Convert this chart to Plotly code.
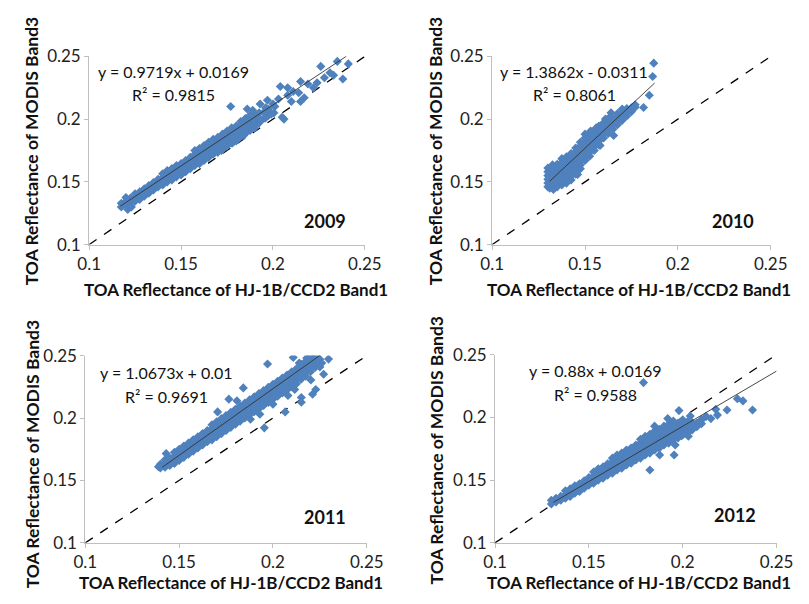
import plotly.graph_objects as go

W, H = 809, 604

years = ["2009", "2010", "2011", "2012"]
slopes = [0.9719, 1.3862, 1.0673, 0.88]
intercepts = [0.0169, -0.0311, 0.01, 0.0169]
equations = ["y = 0.9719x + 0.0169", "y = 1.3862x - 0.0311", "y = 1.0673x + 0.01", "y = 0.88x + 0.0169"]
r2_labels = ["R² = 0.9815", "R² = 0.8061", "R² = 0.9691", "R² = 0.9588"]
fit_ranges = [(0.117, 0.240), (0.131, 0.1875), (0.141, 0.2253), (0.131, 0.25)]
tick_vals = [0.1, 0.15, 0.2, 0.25]
tick_text = ["0.1", "0.15", "0.2", "0.25"]
x_title = "TOA Reflectance of HJ-1B/CCD2 Band1"
y_title = "TOA Reflectance of MODIS Band3"

# dense core of each cloud: HJ-1B reflectance -> MODIS reflectances read in that column
core_2009 = {
    0.1175: [0.130, 0.133], 0.1200: [0.1315, 0.1345, 0.1375], 0.1225: [0.131, 0.134, 0.137],
    0.1250: [0.1345, 0.1375, 0.1405], 0.1275: [0.136, 0.139, 0.142], 0.1300: [0.1385, 0.1415, 0.1445],
    0.1325: [0.141, 0.144, 0.147], 0.1350: [0.1435, 0.1465, 0.1495], 0.1375: [0.146, 0.149, 0.152],
    0.1400: [0.1475, 0.1505, 0.1535, 0.1565], 0.1425: [0.150, 0.153, 0.156, 0.159],
    0.1450: [0.1515, 0.1545, 0.1575, 0.1605], 0.1475: [0.154, 0.157, 0.160, 0.163],
    0.1500: [0.1555, 0.1585, 0.1615, 0.1645], 0.1525: [0.158, 0.161, 0.164, 0.167],
    0.1550: [0.1605, 0.1635, 0.1665, 0.1695], 0.1575: [0.163, 0.166, 0.169, 0.172, 0.175],
    0.1600: [0.1645, 0.1675, 0.1705, 0.1735, 0.1765], 0.1625: [0.167, 0.170, 0.173, 0.176, 0.179],
    0.1650: [0.1695, 0.1725, 0.1755, 0.1785, 0.1815], 0.1675: [0.172, 0.175, 0.178, 0.181, 0.184],
    0.1700: [0.1735, 0.1765, 0.1795, 0.1825, 0.1855], 0.1725: [0.176, 0.179, 0.182, 0.185, 0.188],
    0.1750: [0.1785, 0.1815, 0.1845, 0.1875, 0.1905], 0.1775: [0.181, 0.184, 0.187, 0.190, 0.193],
    0.1800: [0.1825, 0.1855, 0.1885, 0.1915, 0.1945], 0.1825: [0.186, 0.189, 0.192, 0.195, 0.198],
    0.1850: [0.1885, 0.1915, 0.1945, 0.1975, 0.2005], 0.1875: [0.191, 0.194, 0.197, 0.200, 0.203],
    0.1900: [0.1945, 0.1975, 0.2005, 0.2035], 0.1925: [0.197, 0.201, 0.205],
    0.1950: [0.2005, 0.2055], 0.1975: [0.203, 0.208],
}
extra_2009 = [
    (0.177, 0.210), (0.186, 0.208), (0.197, 0.215), (0.204, 0.226), (0.208, 0.225), (0.211, 0.222),
    (0.215, 0.230), (0.219, 0.228), (0.222, 0.225), (0.217, 0.217), (0.215, 0.214), (0.226, 0.242),
    (0.235, 0.246), (0.231, 0.237), (0.233, 0.235), (0.238, 0.232), (0.241, 0.244), (0.205, 0.2015),
    (0.206, 0.200), (0.2005, 0.205), (0.189, 0.207), (0.196, 0.209), (0.201, 0.210), (0.193, 0.212),
    (0.208, 0.219), (0.214, 0.221), (0.200, 0.212), (0.196, 0.201), (0.193, 0.199), (0.123, 0.130),
    (0.121, 0.128), (0.190, 0.193), (0.184, 0.187), (0.178, 0.181), (0.172, 0.175), (0.203, 0.216),
    (0.210, 0.214), (0.199, 0.204), (0.224, 0.229), (0.228, 0.233),
]

core_2010 = {
    0.1300: [0.146, 0.149, 0.152, 0.155, 0.158, 0.161],
    0.1325: [0.1455, 0.1485, 0.1515, 0.1545, 0.1575, 0.1605, 0.1635],
    0.1350: [0.146, 0.149, 0.152, 0.155, 0.158, 0.161, 0.164],
    0.1375: [0.1475, 0.1505, 0.1535, 0.1565, 0.1595, 0.1625, 0.1655, 0.1685],
    0.1400: [0.149, 0.152, 0.155, 0.158, 0.161, 0.164, 0.167, 0.170],
    0.1425: [0.1515, 0.1545, 0.1575, 0.1605, 0.1635, 0.1665, 0.1695, 0.1725],
    0.1450: [0.156, 0.159, 0.162, 0.165, 0.168, 0.171, 0.174, 0.177],
    0.1475: [0.1605, 0.1635, 0.1665, 0.1695, 0.1725, 0.1755, 0.1785, 0.1815],
    0.1500: [0.167, 0.170, 0.173, 0.176, 0.179, 0.182, 0.185, 0.188],
    0.1525: [0.1705, 0.1735, 0.1765, 0.1795, 0.1825, 0.1855, 0.1885],
    0.1550: [0.175, 0.178, 0.181, 0.184, 0.187, 0.190],
    0.1575: [0.1795, 0.1825, 0.1855, 0.1885, 0.1915, 0.1945],
    0.1600: [0.185, 0.188, 0.191, 0.194, 0.197],
    0.1625: [0.1885, 0.1915, 0.1945, 0.1975, 0.2005],
    0.1650: [0.192, 0.195, 0.198, 0.201],
    0.1675: [0.1955, 0.1985, 0.2015, 0.2045],
    0.1700: [0.199, 0.202, 0.205, 0.208],
    0.1725: [0.2025, 0.2055, 0.2085],
    0.1750: [0.206, 0.209],
    0.1770: [0.2095, 0.2115],
}
extra_2010 = [
    (0.1870, 0.2446), (0.1864, 0.2340), (0.1846, 0.2190), (0.1815, 0.2092), (0.1654, 0.1869),
    (0.1581, 0.1790), (0.1460, 0.1559), (0.1330, 0.1440), (0.1310, 0.1450), (0.1560, 0.1930),
    (0.1610, 0.2000), (0.1640, 0.2050), (0.1530, 0.1905),
]

core_2011 = {
    0.1400: [0.160, 0.163], 0.1425: [0.1605, 0.1635, 0.1665], 0.1450: [0.162, 0.165, 0.168],
    0.1475: [0.1635, 0.1665, 0.1695, 0.1725], 0.1500: [0.166, 0.169, 0.172, 0.175],
    0.1525: [0.1685, 0.1715, 0.1745, 0.1775], 0.1550: [0.171, 0.174, 0.177, 0.180],
    0.1575: [0.1735, 0.1765, 0.1795, 0.1825], 0.1600: [0.176, 0.179, 0.182, 0.185],
    0.1625: [0.1785, 0.1815, 0.1845, 0.1875], 0.1650: [0.181, 0.184, 0.187, 0.190],
    0.1675: [0.1825, 0.1855, 0.1885, 0.1915, 0.1945], 0.1700: [0.185, 0.188, 0.191, 0.194, 0.197],
    0.1725: [0.1875, 0.1905, 0.1935, 0.1965, 0.1995], 0.1750: [0.190, 0.193, 0.196, 0.199, 0.202],
    0.1775: [0.1925, 0.1955, 0.1985, 0.2015, 0.2045], 0.1800: [0.195, 0.198, 0.201, 0.204, 0.207],
    0.1825: [0.1975, 0.2005, 0.2035, 0.2065, 0.2095], 0.1850: [0.200, 0.203, 0.206, 0.209, 0.212],
    0.1875: [0.2025, 0.2055, 0.2085, 0.2115, 0.2145], 0.1900: [0.205, 0.208, 0.211, 0.214, 0.217],
    0.1925: [0.2075, 0.2105, 0.2135, 0.2165, 0.2195], 0.1950: [0.210, 0.213, 0.216, 0.219, 0.222],
    0.1975: [0.2125, 0.2155, 0.2185, 0.2215, 0.2245], 0.2000: [0.215, 0.218, 0.221, 0.224, 0.227],
    0.2025: [0.2175, 0.2205, 0.2235, 0.2265, 0.2295], 0.2050: [0.220, 0.223, 0.226, 0.229, 0.232],
    0.2075: [0.2225, 0.2255, 0.2285, 0.2315, 0.2345], 0.2100: [0.225, 0.228, 0.231, 0.234, 0.237],
    0.2125: [0.2275, 0.2305, 0.2335, 0.2365, 0.2395], 0.2150: [0.231, 0.234, 0.237, 0.240, 0.243],
    0.2175: [0.2335, 0.2365, 0.2395, 0.2425, 0.2455], 0.2200: [0.237, 0.240, 0.243, 0.246, 0.249],
    0.2225: [0.2405, 0.2435, 0.2465, 0.2495], 0.2250: [0.244, 0.247],
}
extra_2011 = [
    (0.139, 0.161), (0.1431, 0.1715), (0.1971, 0.2433), (0.2108, 0.2485), (0.2296, 0.2472),
    (0.2202, 0.2305), (0.2228, 0.2228), (0.1842, 0.2241), (0.1765, 0.2151), (0.1911, 0.2100),
    (0.1954, 0.1921), (0.1783, 0.1960), (0.2065, 0.2049), (0.2151, 0.2126), (0.2031, 0.2254),
    (0.1834, 0.2054), (0.1705, 0.2049), (0.1808, 0.2138), (0.2250, 0.2408), (0.2211, 0.2190),
    (0.2151, 0.2164), (0.2116, 0.2228), (0.2260, 0.2440), (0.2180, 0.2480), (0.2140, 0.2440),
    (0.2270, 0.2350), (0.1880, 0.1990), (0.1930, 0.2030), (0.2000, 0.2110), (0.2080, 0.2180),
]

core_2012 = {
    0.1300: [0.131, 0.134], 0.1325: [0.1325, 0.1355], 0.1350: [0.134, 0.137],
    0.1375: [0.1355, 0.1385, 0.1415], 0.1400: [0.137, 0.140, 0.143], 0.1425: [0.1395, 0.1425, 0.1455],
    0.1450: [0.141, 0.144, 0.147], 0.1475: [0.1435, 0.1465, 0.1495], 0.1500: [0.146, 0.149, 0.152],
    0.1525: [0.1475, 0.1505, 0.1535, 0.1565], 0.1550: [0.150, 0.153, 0.156, 0.159],
    0.1575: [0.1515, 0.1545, 0.1575, 0.1605], 0.1600: [0.154, 0.157, 0.160, 0.163],
    0.1625: [0.1555, 0.1585, 0.1615, 0.1645, 0.1675], 0.1650: [0.158, 0.161, 0.164, 0.167, 0.170],
    0.1675: [0.1595, 0.1625, 0.1655, 0.1685, 0.1715], 0.1700: [0.162, 0.165, 0.168, 0.171, 0.174],
    0.1725: [0.1635, 0.1665, 0.1695, 0.1725, 0.1755], 0.1750: [0.166, 0.169, 0.172, 0.175, 0.178],
    0.1775: [0.1675, 0.1705, 0.1735, 0.1765, 0.1795, 0.1825],
    0.1800: [0.170, 0.173, 0.176, 0.179, 0.182, 0.185],
    0.1825: [0.1715, 0.1745, 0.1775, 0.1805, 0.1835, 0.1865],
    0.1850: [0.174, 0.177, 0.180, 0.183, 0.186, 0.189],
    0.1875: [0.1755, 0.1785, 0.1815, 0.1845, 0.1875, 0.1905],
    0.1900: [0.178, 0.181, 0.184, 0.187, 0.190, 0.193],
    0.1925: [0.1795, 0.1825, 0.1855, 0.1885, 0.1915, 0.1945],
    0.1950: [0.182, 0.185, 0.188, 0.191, 0.194, 0.197],
    0.1975: [0.1835, 0.1865, 0.1895, 0.1925, 0.1955],
    0.2000: [0.186, 0.189, 0.192, 0.195, 0.198], 0.2025: [0.1875, 0.1905, 0.1935, 0.1965],
    0.2050: [0.190, 0.193, 0.196], 0.2075: [0.1925, 0.1955], 0.2100: [0.195, 0.198],
}
extra_2012 = [
    (0.1791, 0.2277), (0.2321, 0.2131), (0.2291, 0.2148), (0.2372, 0.2059), (0.2236, 0.2059),
    (0.2176, 0.2064), (0.2185, 0.2018), (0.1980, 0.2054), (0.1954, 0.1700), (0.1877, 0.1700),
    (0.1825, 0.1580), (0.2073, 0.1936), (0.2125, 0.2008), (0.1993, 0.1854), (0.1889, 0.1815),
    (0.1748, 0.1721), (0.1679, 0.1631), (0.2100, 0.1980), (0.2040, 0.2010), (0.2150, 0.1990),
    (0.1920, 0.1990), (0.1850, 0.1930), (0.2030, 0.1850), (0.1960, 0.1780),
]

cores = [core_2009, core_2010, core_2011, core_2012]
extras = [extra_2009, extra_2010, extra_2011, extra_2012]

# layout (pixel positions of plot areas: left, right, top, bottom)
boxes = [(80, 366, 47, 242), (498, 787, 47, 242), (76, 368, 357, 551), (501, 793, 356, 551)]
eq_pos = [(167, 63), (583, 63), (160, 375), (605, 372)]
r2_pos = [(167, 87), (583, 86), (160, 399), (605, 397)]
yr_pos = [(325, 218), (748, 218), (325, 524), (750, 522)]
xt_pos = [(232, 289), (650, 289), (227, 592), (650, 592)]
yt_pos = [(21, 145), (440, 145), (21, 459), (440, 455)]

FONT = "Lato, Carlito, Calibri, sans-serif"
BLUE = "#4f81bd"
AX = "#bfbfbf"

fig = go.Figure()
annotations = []
for i in range(4):
    xs, ys = [], []
    for xv, yl in cores[i].items():
        for yv in yl:
            xs.append(xv)
            ys.append(yv)
    for xv, yv in extras[i]:
        xs.append(xv)
        ys.append(yv)
    xa = "x" if i == 0 else f"x{i+1}"
    ya = "y" if i == 0 else f"y{i+1}"
    fig.add_trace(go.Scatter(x=[0.1, 0.25], y=[0.1, 0.25], mode="lines",
                             line=dict(color="black", width=1.3, dash="dash"),
                             xaxis=xa, yaxis=ya, showlegend=False, hoverinfo="skip"))
    fig.add_trace(go.Scatter(x=xs, y=ys, mode="markers",
                             marker=dict(symbol="diamond", size=7, color=BLUE, line=dict(width=0)),
                             xaxis=xa, yaxis=ya, showlegend=False))
    x0, x1 = fit_ranges[i]
    fig.add_trace(go.Scatter(x=[x0, x1], y=[slopes[i] * x0 + intercepts[i], slopes[i] * x1 + intercepts[i]],
                             mode="lines", line=dict(color="#333333", width=0.9),
                             xaxis=xa, yaxis=ya, showlegend=False, hoverinfo="skip"))
    l, r, t, b = boxes[i]
    axis_common = dict(range=[0.1, 0.25], tickvals=tick_vals, ticktext=tick_text,
                       showgrid=False, zeroline=False, showline=True, linecolor=AX, linewidth=1,
                       ticks="outside", ticklen=4, tickcolor=AX,
                       tickfont=dict(family=FONT, size=17, color="#222"))
    fig.layout[("xaxis" if i == 0 else f"xaxis{i+1}")] = dict(
        domain=[l / W, r / W], anchor=ya, **axis_common)
    fig.layout[("yaxis" if i == 0 else f"yaxis{i+1}")] = dict(
        domain=[1 - b / H, 1 - t / H], anchor=xa, **axis_common)

    def ann(text, pos, size, bold=False, angle=0):
        return dict(text=f"<b>{text}</b>" if bold else text, x=pos[0] / W, y=1 - pos[1] / H,
                    xref="paper", yref="paper", xanchor="center", yanchor="middle",
                    showarrow=False, textangle=angle,
                    font=dict(family=FONT, size=size, color="#111"))
    annotations.append(ann(equations[i], eq_pos[i], 16))
    annotations.append(ann(r2_labels[i], r2_pos[i], 16))
    annotations.append(ann(years[i], yr_pos[i], 18, bold=True))
    annotations.append(ann(x_title, xt_pos[i], 17, bold=True))
    annotations.append(ann(y_title, yt_pos[i], 17.5, bold=True, angle=-90))

fig.update_layout(width=W, height=H, margin=dict(l=0, r=0, t=0, b=0),
                  paper_bgcolor="white", plot_bgcolor="white",
                  annotations=annotations, showlegend=False)
fig.write_html("out.html")
